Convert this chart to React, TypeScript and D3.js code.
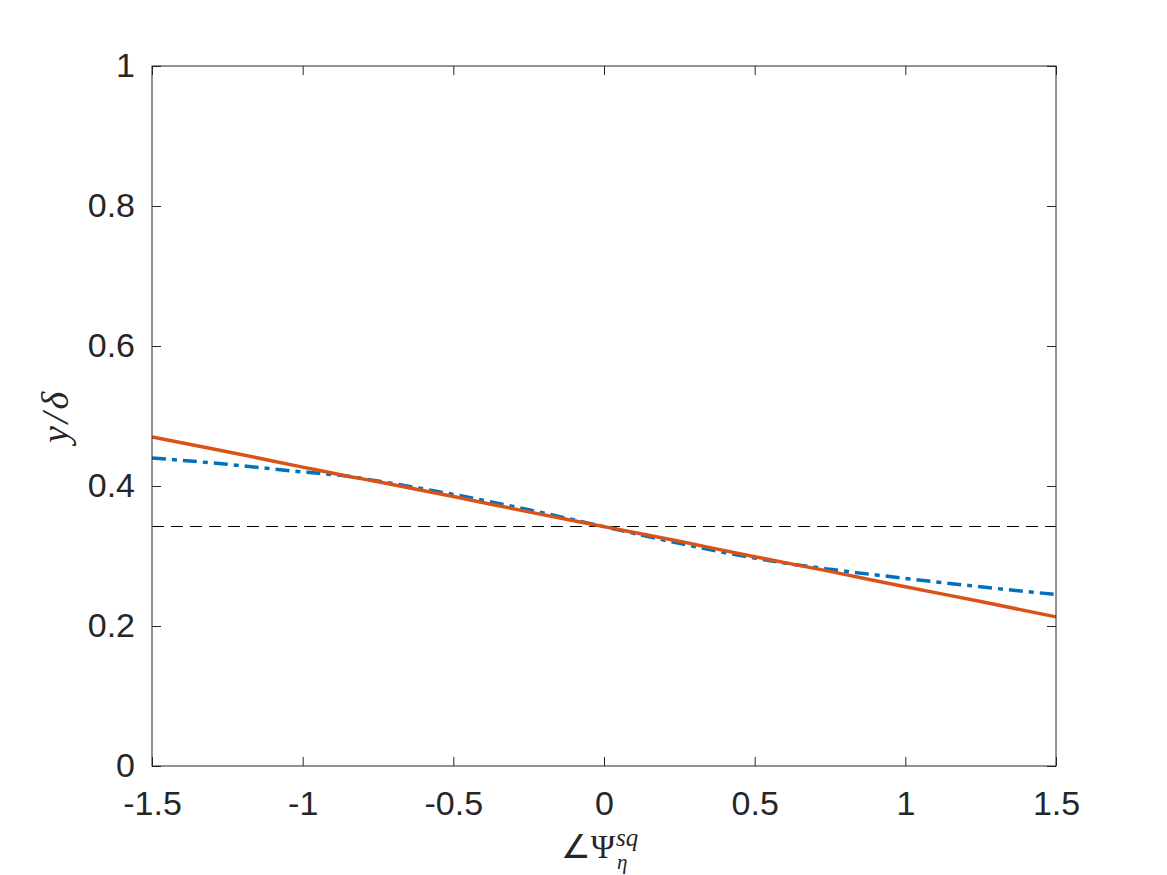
import React, { useEffect, useRef } from "react";
import * as d3 from "d3";

// x positions (angle) and the two profile curves
const xVals = [-1.5, -1.25, -1, -0.85, -0.75, -0.5, -0.25, 0, 0.25, 0.5, 0.63, 0.75, 1, 1.25, 1.5];
const blueVals = [0.44, 0.431, 0.42, 0.414, 0.407, 0.388, 0.366, 0.342, 0.318, 0.297, 0.288, 0.281, 0.268, 0.256, 0.245];
const orangeVals = [0.47, 0.449, 0.427, 0.414, 0.406, 0.385, 0.363, 0.342, 0.321, 0.299, 0.288, 0.278, 0.256, 0.235, 0.213];
const refLevel = 0.343;

const xTicks = [-1.5, -1, -0.5, 0, 0.5, 1, 1.5];
const yTicks = [0, 0.2, 0.4, 0.6, 0.8, 1];

const W = 1167;
const H = 875;
const margin = { top: 66, right: 111, bottom: 109, left: 152 };

const App = () => {
  const ref = useRef(null);

  useEffect(() => {
    const svg = d3.select(ref.current);
    svg.selectAll("*").remove();

    const x = d3.scaleLinear().domain([-1.5, 1.5]).range([margin.left, W - margin.right]);
    const y = d3.scaleLinear().domain([0, 1]).range([H - margin.bottom, margin.top]);
    const axisColor = "#262626";
    const tickFont = "'Liberation Sans', Arial, Helvetica, sans-serif";

    // reference dashed line
    const yRef = Math.round(y(refLevel)) + 0.5;
    svg
      .append("line")
      .attr("x1", x(-1.5))
      .attr("x2", x(1.5))
      .attr("y1", yRef)
      .attr("y2", yRef)
      .attr("stroke", "#000")
      .attr("stroke-width", 1)
      .attr("stroke-dasharray", "12,7");

    const pts = (vals) => xVals.map((v, i) => [v, vals[i]]);
    const line = d3
      .line()
      .x((d) => x(d[0]))
      .y((d) => y(d[1]))
      .curve(d3.curveMonotoneX);

    svg
      .append("path")
      .attr("d", line(pts(blueVals)))
      .attr("fill", "none")
      .attr("stroke", "#0072BD")
      .attr("stroke-width", 3.5)
      .attr("stroke-dasharray", "14,6,5,6");

    svg
      .append("path")
      .attr("d", line(pts(orangeVals)))
      .attr("fill", "none")
      .attr("stroke", "#D95319")
      .attr("stroke-width", 3.5);

    const fmt = (d) => String(d);
    const styleAxis = (g) => {
      g.select(".domain").remove();
      g.selectAll("line").attr("stroke", axisColor);
      g.selectAll("text")
        .attr("fill", axisColor)
        .style("font-family", tickFont)
        .style("font-size", "34px");
    };

    svg
      .append("g")
      .attr("transform", `translate(0,${H - margin.bottom})`)
      .call(d3.axisBottom(x).tickValues(xTicks).tickFormat(fmt).tickSize(-9).tickPadding(25))
      .call(styleAxis);
    svg
      .append("g")
      .attr("transform", `translate(0,${margin.top})`)
      .call(d3.axisTop(x).tickValues(xTicks).tickFormat(() => "").tickSize(-9))
      .call(styleAxis);
    svg
      .append("g")
      .attr("transform", `translate(${margin.left},0)`)
      .call(d3.axisLeft(y).tickValues(yTicks).tickFormat(fmt).tickSize(-9).tickPadding(17))
      .call(styleAxis);
    svg
      .append("g")
      .attr("transform", `translate(${W - margin.right},0)`)
      .call(d3.axisRight(y).tickValues(yTicks).tickFormat(() => "").tickSize(-9))
      .call(styleAxis);

    // axes box
    svg
      .append("rect")
      .attr("x", margin.left)
      .attr("y", margin.top)
      .attr("width", W - margin.left - margin.right)
      .attr("height", H - margin.top - margin.bottom)
      .attr("fill", "none")
      .attr("stroke", axisColor)
      .attr("stroke-width", 1);

    const serif = "'Liberation Serif', 'Times New Roman', serif";

    // x label: ∠Ψ_η^{sq}
    svg
      .append("text")
      .attr("x", 615)
      .attr("y", 858)
      .attr("text-anchor", "end")
      .attr("fill", axisColor)
      .style("font-family", serif)
      .style("font-size", "33px")
      .text("∠Ψ");
    svg
      .append("text")
      .attr("x", 616)
      .attr("y", 846)
      .attr("fill", axisColor)
      .style("font-family", serif)
      .style("font-style", "italic")
      .style("font-size", "25px")
      .text("sq");
    svg
      .append("text")
      .attr("x", 617)
      .attr("y", 869)
      .attr("fill", axisColor)
      .style("font-family", serif)
      .style("font-style", "italic")
      .style("font-size", "21px")
      .text("η");

    // y label
    svg
      .append("text")
      .attr("transform", `translate(68,${(margin.top + H - margin.bottom) / 2}) rotate(-90)`)
      .attr("text-anchor", "middle")
      .attr("fill", axisColor)
      .style("font-family", serif)
      .style("font-style", "italic")
      .style("font-size", "38px")
      .style("letter-spacing", "3px")
      .text("y/δ");

    return () => {
      svg.selectAll("*").remove();
    };
  }, []);

  return (
    <svg
      ref={ref}
      width={W}
      height={H}
      style={{ position: "absolute", left: 0, top: 0, background: "#fff" }}
    />
  );
};

export default App;
